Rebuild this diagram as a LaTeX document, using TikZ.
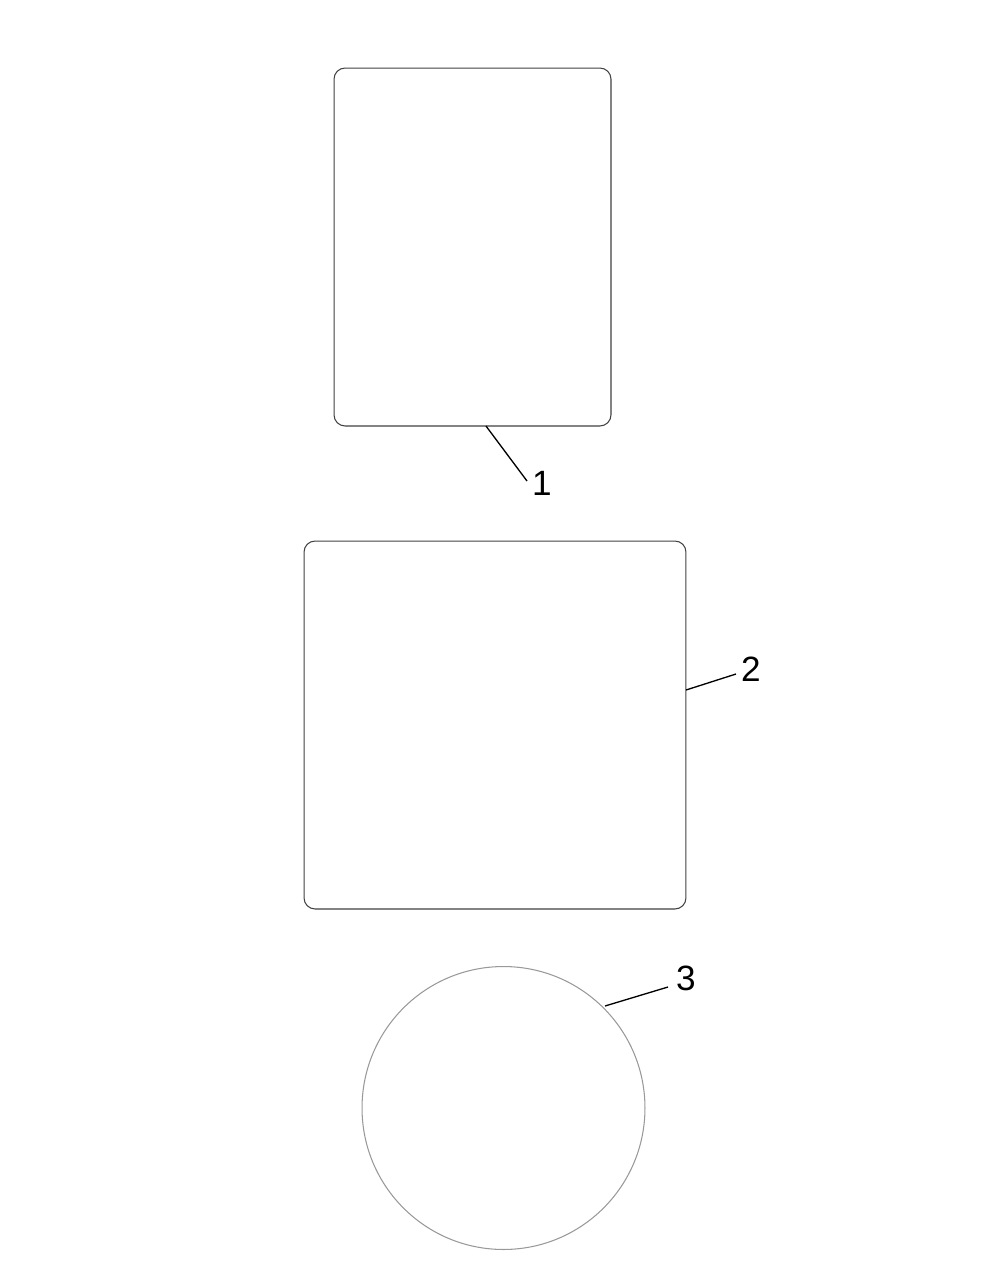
\documentclass[tikz,border=0pt]{standalone}
\usepackage{fontspec}
\setmainfont{Liberation Sans}
\usetikzlibrary{positioning}

\begin{document}
\begin{tikzpicture}[x=0.02cm, y=-0.02cm, every node/.style={font=\fontsize{20}{24}\selectfont},
    plate/.style={draw=black!75, line width=0.6pt, rounded corners=0.22cm, inner sep=0pt},
    disc/.style={circle, draw=black!40, line width=0.6pt, inner sep=0pt},
    leader/.style={line width=0.75pt},
    tag/.style={inner sep=0pt}]
            \useasboundingbox (0,0) rectangle (1000,1262);
            % Parts
            \node[plate, minimum width=5.54cm, minimum height=7.16cm] (plate1) at (472.5,247) {};
            \node[plate, minimum width=7.64cm, minimum height=7.36cm] (plate2) at (495,725) {};
            \node[disc, minimum size=5.66cm] (disc3) at (503.5,1108) {};

            % Leader ends
            \coordinate (tip1) at (486,426);
            \coordinate (end1) at (527,481);
            \coordinate (tip2) at (686,690);
            \coordinate (end2) at (736,674);
            \coordinate (tip3) at (605,1006);
            \coordinate (end3) at (668,987);

            % Item numbers
            \node[tag] (num1) at (542,483) {1};
            \node[tag] (num2) at (751,669) {2};
            \node[tag] (num3) at (686,978) {3};

            \draw[leader] (tip1) -- (end1);
            \draw[leader] (tip2) -- (end2);
            \draw[leader] (tip3) -- (end3);
        \end{tikzpicture}
\end{document}
